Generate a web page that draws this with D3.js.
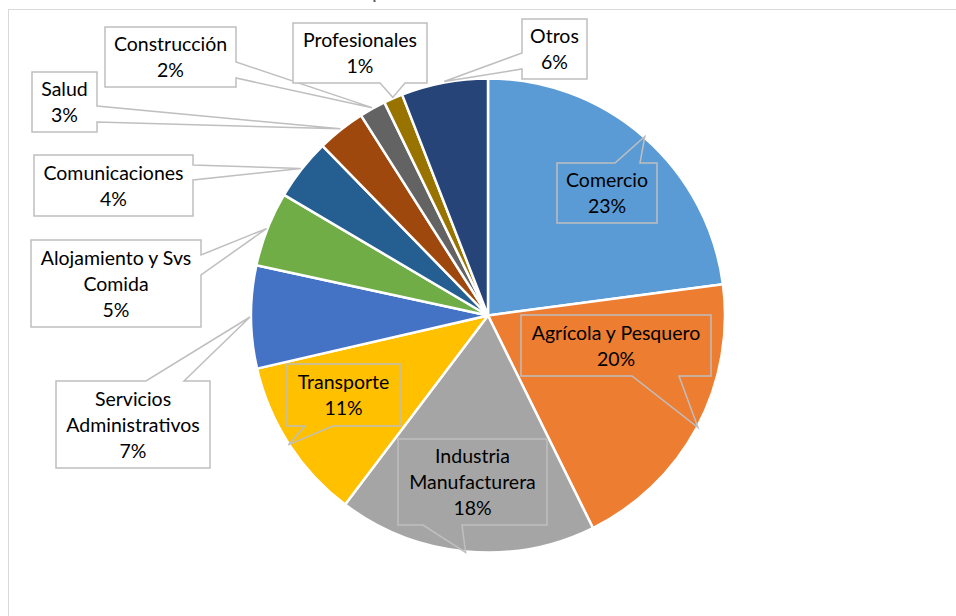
<!DOCTYPE html>
<html>
<head>
<meta charset="utf-8">
<script src="https://cdn.jsdelivr.net/npm/d3@7"></script>
<style>
  body { margin: 0; background: #fff; }
  text { font-family: Lato, "Noto Sans", sans-serif; }
</style>
</head>
<body>
<svg id="chart" width="956" height="616"></svg>
<script>
// data
const categories = ["Comercio", "Agrícola y Pesquero", "Industria Manufacturera", "Transporte",
  "Servicios Administrativos", "Alojamiento y Svs Comida", "Comunicaciones", "Salud",
  "Construcción", "Profesionales", "Otros"]
const shares = [22.9, 19.8, 17.6, 11.1, 7.0, 5.1, 4.2, 3.3, 1.8, 1.3, 5.9]
const colors = ["#5B9BD5", "#ED7D31", "#A5A5A5", "#FFC000", "#4472C4", "#70AD47",
  "#255E91", "#9E480E", "#636363", "#997300", "#264478"]

// callout boxes (layout only): rect, side where the wedge leaves, wedge base
const callouts = {
  "Comercio":                  {box: [557, 163, 100, 60], side: "top",    base: [615, 640], inside: true},
  "Agrícola y Pesquero":       {box: [521, 315, 190, 61], side: "bottom", base: [632, 679], inside: true},
  "Industria Manufacturera":   {box: [398, 439, 149, 86], side: "bottom", base: [423, 462], inside: true},
  "Transporte":                {box: [287, 364, 113, 62], side: "bottom", base: [305, 333], inside: true},
  "Servicios Administrativos": {box: [56, 381, 154, 87],  side: "top",    base: [146, 184]},
  "Alojamiento y Svs Comida":  {box: [31, 240, 170, 87],  side: "right",  base: [255, 275]},
  "Comunicaciones":            {box: [34, 155, 159, 61],  side: "right",  base: [165, 180]},
  "Salud":                     {box: [32, 72, 65, 60],    side: "right",  base: [106, 122]},
  "Construcción":              {box: [105, 27, 131, 60],  side: "right",  base: [62, 78]},
  "Profesionales":             {box: [293, 23, 134, 60],  side: "bottom", base: [380, 405]},
  "Otros":                     {box: [522, 19, 65, 60],   side: "left",   base: [53, 69]}
}

const svg = d3.select("#chart")
const cx = 488, cy = 315.5, radius = 237

// frame + title (cut by the top edge, as in the source picture)
svg.append("rect")
  .attr("x", 8.5).attr("y", 9.5).attr("width", 1000).attr("height", 700)
  .attr("fill", "none").attr("stroke", "#d9d9d9").attr("stroke-width", 1)

svg.append("text")
  .attr("x", 484).attr("y", -2)
  .attr("text-anchor", "middle")
  .style("font-size", "21px").attr("fill", "#595959")
  .text("por actividad económica")

const pie = d3.pie().sort(null).value(d => d)
const arcs = pie(shares)
const arc = d3.arc().innerRadius(0).outerRadius(radius)

const g = svg.append("g").attr("transform", "translate(" + cx + "," + cy + ")")

g.selectAll("path.slice")
  .data(arcs)
  .enter().append("path")
  .attr("class", "slice")
  .attr("d", arc)
  .attr("fill", (d, i) => colors[i])
  .attr("stroke", "#fff")
  .attr("stroke-width", 2.5)
  .attr("stroke-linejoin", "round")

// callout path: rect with wedge pointing to the tip
function calloutPath(c, tip) {
  let [x, y, w, h] = c.box
  let [a, b] = c.base
  let pts
  if (c.side === "top") {
    pts = [[x, y], [a, y], tip, [b, y], [x + w, y], [x + w, y + h], [x, y + h]]
  } else if (c.side === "bottom") {
    pts = [[x, y], [x + w, y], [x + w, y + h], [b, y + h], tip, [a, y + h], [x, y + h]]
  } else if (c.side === "right") {
    pts = [[x, y], [x + w, y], [x + w, a], tip, [x + w, b], [x + w, y + h], [x, y + h]]
  } else {
    pts = [[x, y], [x + w, y], [x + w, y + h], [x, y + h], [x, b], tip, [x, a]]
  }
  return "M" + pts.map(p => p.join(",")).join("L") + "Z"
}

const labels = svg.append("g")

arcs.forEach((d, i) => {
  let name = categories[i]
  let c = callouts[name]
  let mid = (d.startAngle + d.endAngle) / 2
  let tip = [cx + (radius + 1) * Math.sin(mid), cy - (radius + 1) * Math.cos(mid)]

  labels.append("path")
    .attr("d", calloutPath(c, tip))
    .attr("fill", c.inside ? "none" : "#fff")
    .attr("stroke", "#bfbfbf")
    .attr("stroke-width", 1.5)
    .attr("stroke-linejoin", "miter")

  // greedy wrap of the name inside the box
  let [x, y, w, h] = c.box
  let probe = labels.append("text").style("font-size", "19.5px")
  let words = name.split(" "), lines = [], cur = ""
  words.forEach(word => {
    let test = cur ? cur + " " + word : word
    probe.text(test)
    if (cur && probe.node().getComputedTextLength() > w - 10) {
      lines.push(cur)
      cur = word
    } else {
      cur = test
    }
  })
  lines.push(cur)
  probe.remove()
  lines.push(Math.round(shares[i]) + "%")

  let lh = 26
  let top = y + h / 2 - lines.length * lh / 2
  let t = labels.append("text")
    .attr("text-anchor", "middle")
    .style("font-size", "19.5px")
    .attr("fill", "#000")
  lines.forEach((ln, k) => {
    t.append("tspan")
      .attr("x", x + w / 2)
      .attr("y", top + k * lh + 20)
      .text(ln)
  })
})
</script>
</body>
</html>
